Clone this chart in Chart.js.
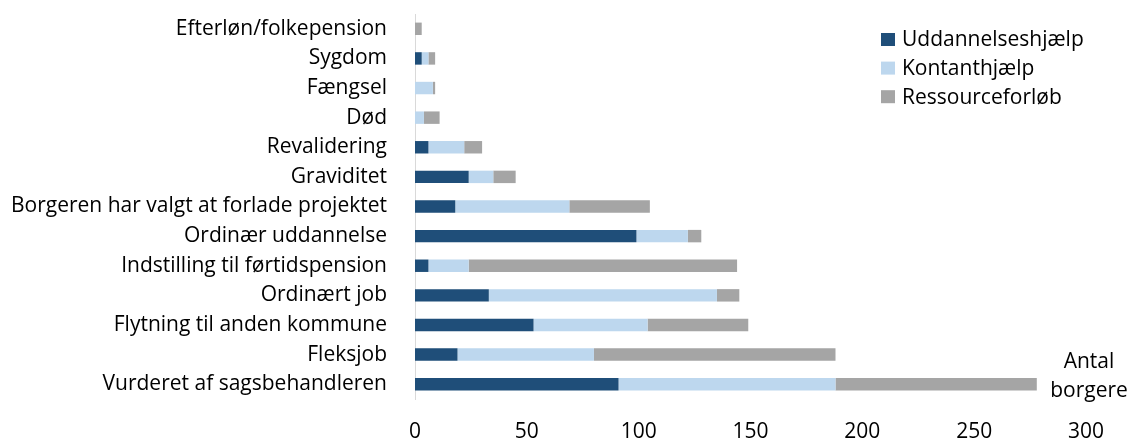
<!DOCTYPE html>
<html>
<head>
<meta charset="utf-8">
<script src="https://cdn.jsdelivr.net/npm/chart.js@4.4.0/dist/chart.umd.min.js"></script>
<style>
  html, body { margin: 0; padding: 0; background: #ffffff; }
  #wrap { width: 1134px; height: 440px; }
</style>
</head>
<body>
<div id="wrap"><canvas id="c" width="1134" height="440"></canvas></div>
<script>
const categories = [
  "Efterløn/folkepension",
  "Sygdom",
  "Fængsel",
  "Død",
  "Revalidering",
  "Graviditet",
  "Borgeren har valgt at forlade projektet",
  "Ordinær uddannelse",
  "Indstilling til førtidspension",
  "Ordinært job",
  "Flytning til anden kommune",
  "Fleksjob",
  "Vurderet af sagsbehandleren"
];
const seriesNames = ["Uddannelseshjælp", "Kontanthjælp", "Ressourceforløb"];
const uddannelseshjaelp = [0, 3, 0, 0, 6, 24, 18, 99, 6, 33, 53, 19, 91];
const kontanthjaelp     = [0, 3, 8, 4, 16, 11, 51, 23, 18, 102, 51, 61, 97];
const ressourceforloeb  = [3, 3, 1, 7, 8, 10, 36, 6, 120, 10, 45, 108, 90];
const xTicks = [0, 50, 100, 150, 200, 250, 300];
const axisTitle = ["Antal", "borgere"];

const colors = ["#1F4E79", "#BDD7EE", "#A5A5A5"];
const FONT = "'Open Sans', sans-serif";
const FS = 21;

const legendPlugin = {
  id: 'customLegend',
  afterDraw(chart) {
    const ctx = chart.ctx;
    ctx.save();
    ctx.font = FS + "px " + FONT;
    ctx.textBaseline = 'middle';
    ctx.textAlign = 'left';
    const x0 = 881, y0 = 39.5, step = 28.6;
    chart.data.datasets.forEach((ds, i) => {
      const y = y0 + i * step;
      ctx.fillStyle = ds.backgroundColor;
      ctx.fillRect(x0, y - 6.5, 14, 13);
      ctx.fillStyle = '#000000';
      ctx.fillText(ds.label, x0 + 21, y + 1);
    });
    // axis title
    ctx.textAlign = 'center';
    ctx.textBaseline = 'alphabetic';
    ctx.fillText(axisTitle[0], 1089, 368);
    ctx.fillText(axisTitle[1], 1089, 397);
    ctx.restore();
  }
};

new Chart(document.getElementById('c'), {
  type: 'bar',
  data: {
    labels: categories,
    datasets: [
      { label: seriesNames[0], data: uddannelseshjaelp, backgroundColor: colors[0] },
      { label: seriesNames[1], data: kontanthjaelp, backgroundColor: colors[1] },
      { label: seriesNames[2], data: ressourceforloeb, backgroundColor: colors[2] }
    ]
  },
  options: {
    indexAxis: 'y',
    responsive: false,
    animation: false,
    devicePixelRatio: 1,
    layout: { padding: { top: 14, right: 48, bottom: 0, left: 0 } },
    datasets: { bar: { barPercentage: 0.42, categoryPercentage: 1, borderWidth: 0 } },
    plugins: { legend: { display: false }, tooltip: { enabled: false } },
    scales: {
      x: {
        stacked: true,
        min: 0, max: 300,
        afterBuildTicks(scale) { scale.ticks = xTicks.map(v => ({ value: v })); },
        afterFit(scale) { scale.height = 41; scale.paddingLeft = 0; scale.paddingRight = 0; },
        grid: { display: false, drawTicks: false },
        border: { display: false },
        ticks: { color: '#000000', font: { family: FONT, size: FS }, padding: 20, maxRotation: 0 }
      },
      y: {
        stacked: true,
        afterFit(scale) { scale.width = 415; scale.paddingTop = 0; scale.paddingBottom = 0; },
        grid: { display: false, drawTicks: false },
        border: { display: true, color: '#D9D9D9', width: 1 },
        ticks: { color: '#000000', font: { family: FONT, size: FS }, padding: 28, autoSkip: false }
      }
    }
  },
  plugins: [legendPlugin]
});
</script>
</body>
</html>
